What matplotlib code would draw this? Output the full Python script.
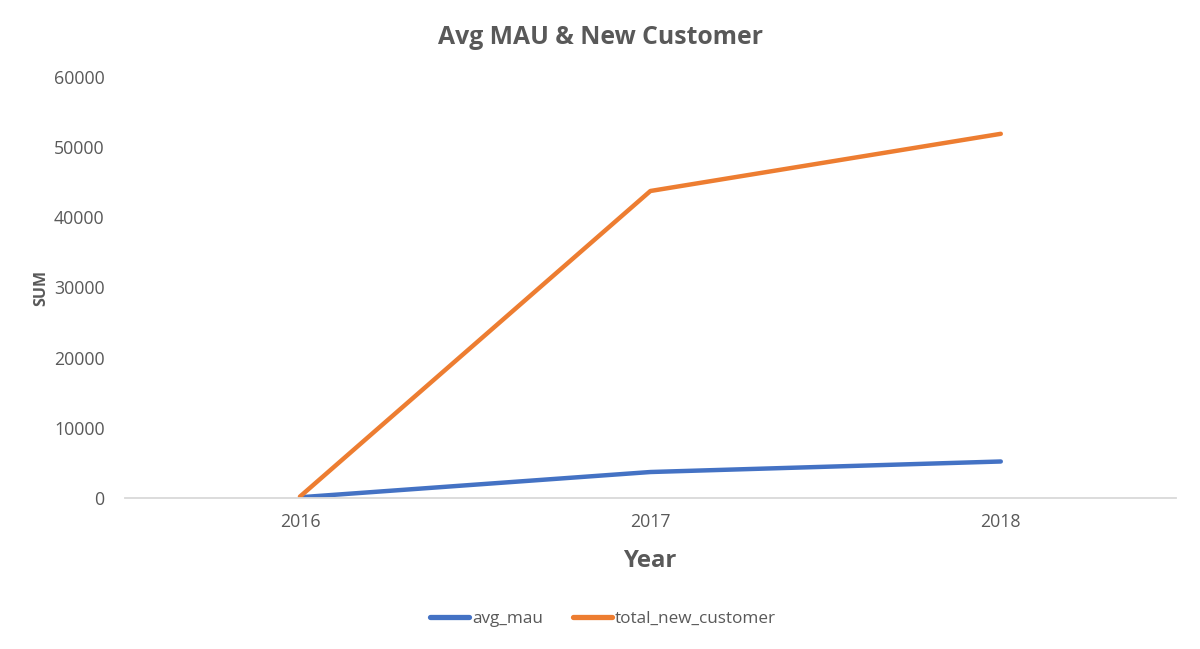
import matplotlib
matplotlib.use("Agg")
import matplotlib.pyplot as plt

years = ["2016", "2017", "2018"]
avg_mau = [100, 3700, 5200]
total_new_customer = [200, 43750, 51900]

plt.rcParams['font.family'] = ['Open Sans', 'DejaVu Sans']
gray = "#595959"

fig = plt.figure(figsize=(12, 6.49), dpi=100)
ax = fig.add_axes([0.104, 0.2327, 0.876, 0.6487])
x = range(len(years))
ax.plot(x, avg_mau, color="#4472C4", lw=3.2, solid_capstyle="round", solid_joinstyle="round", label="avg_mau")
ax.plot(x, total_new_customer, color="#ED7D31", lw=3.2, solid_capstyle="round", solid_joinstyle="round", label="total_new_customer")

ax.set_xlim(-0.5, 2.5)
ax.set_ylim(0, 60000)
ax.set_yticks(range(0, 60001, 10000))
ax.set_xticks(list(x))
ax.set_xticklabels(years)
for s in ["top", "right", "left"]:
    ax.spines[s].set_visible(False)
ax.spines["bottom"].set_color("#D9D9D9")
ax.spines["bottom"].set_linewidth(1.3)
ax.tick_params(axis="both", length=0, colors=gray, labelsize=12.8)
ax.tick_params(axis="y", pad=14.5)
ax.tick_params(axis="x", pad=11)

fig.text(0.5, 0.942, "Avg MAU & New Customer", ha="center", va="center", fontsize=17.8, fontweight="bold", color=gray)
fig.text(0.5417, 0.136, "Year", ha="center", va="center", fontsize=17.3, fontweight="bold", color=gray)
fig.text(0.034, 0.557, "SUM", ha="center", va="center", rotation=90, fontsize=11.5, fontweight="bold", color=gray)

leg = fig.legend(loc="center", bbox_to_anchor=(0.5025, 0.046), ncol=2, frameon=False, fontsize=12.3,
                 handlelength=2.3, columnspacing=1.75, handletextpad=0.15)
for line in leg.get_lines():
    line.set_linewidth(3.8)
    line.set_solid_capstyle("round")
for t in leg.get_texts():
    t.set_color(gray)

fig.savefig("out.png", dpi=100)
